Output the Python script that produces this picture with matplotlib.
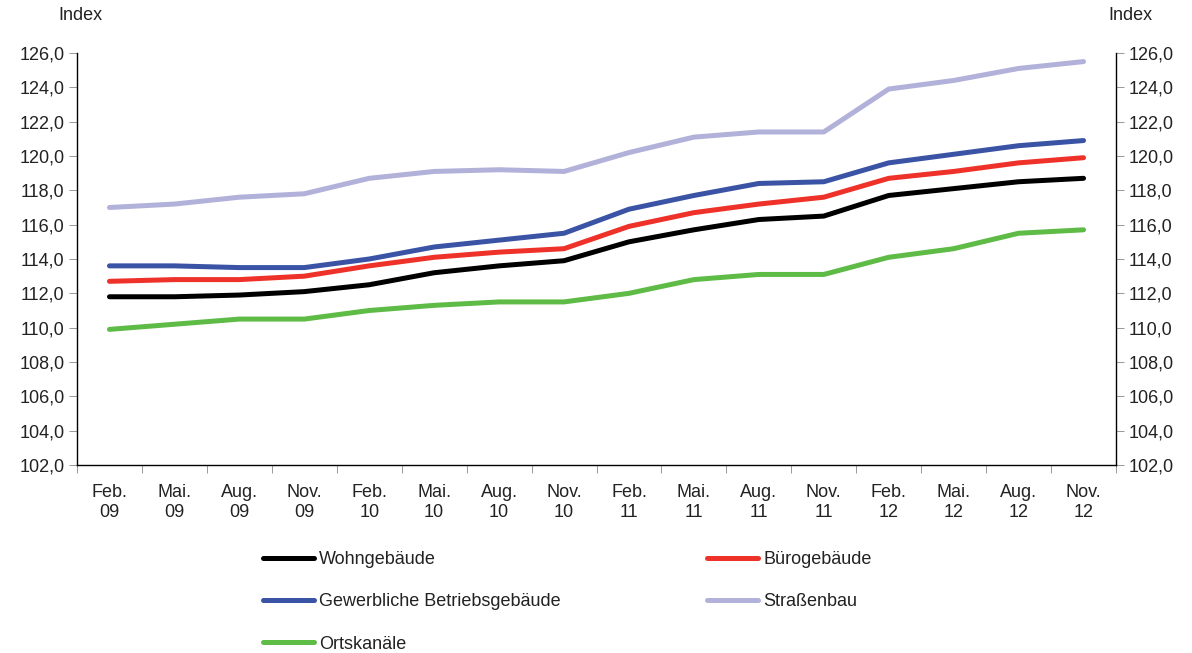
import numpy as np
import matplotlib.pyplot as plt
from matplotlib.ticker import FixedLocator, FuncFormatter

plt.rcParams['font.family'] = ['Liberation Sans', 'DejaVu Sans']

# Quarters, Feb. 2009 - Nov. 2012
labels = ['Feb.\n09', 'Mai.\n09', 'Aug.\n09', 'Nov.\n09',
          'Feb.\n10', 'Mai.\n10', 'Aug.\n10', 'Nov.\n10',
          'Feb.\n11', 'Mai.\n11', 'Aug.\n11', 'Nov.\n11',
          'Feb.\n12', 'Mai.\n12', 'Aug.\n12', 'Nov.\n12']

wohn = [111.8, 111.8, 111.9, 112.1, 112.5, 113.2, 113.6, 113.9,
        115.0, 115.7, 116.3, 116.5, 117.7, 118.1, 118.5, 118.7]
buero = [112.7, 112.8, 112.8, 113.0, 113.6, 114.1, 114.4, 114.6,
         115.9, 116.7, 117.2, 117.6, 118.7, 119.1, 119.6, 119.9]
gewerbe = [113.6, 113.6, 113.5, 113.5, 114.0, 114.7, 115.1, 115.5,
           116.9, 117.7, 118.4, 118.5, 119.6, 120.1, 120.6, 120.9]
strasse = [117.0, 117.2, 117.6, 117.8, 118.7, 119.1, 119.2, 119.1,
           120.2, 121.1, 121.4, 121.4, 123.9, 124.4, 125.1, 125.5]
kanal = [109.9, 110.2, 110.5, 110.5, 111.0, 111.3, 111.5, 111.5,
         112.0, 112.8, 113.1, 113.1, 114.1, 114.6, 115.5, 115.7]

series = [
    ('Wohngebäude', wohn, '#000000'),
    ('Bürogebäude', buero, '#EE3129'),
    ('Gewerbliche Betriebsgebäude', gewerbe, '#3A53A4'),
    ('Straßenbau', strasse, '#B1B1D9'),
    ('Ortskanäle', kanal, '#5DBB46'),
]

fig = plt.figure(figsize=(11.92, 6.53), dpi=100)
ax = fig.add_axes([77/1192, 1-465/653, (1116-77)/1192, (465-53)/653])

x = np.arange(len(labels))
handles = {}
for name, vals, col in series:
    h, = ax.plot(x, vals, color=col, lw=3.6, solid_capstyle='round', label=name)
    handles[name] = h

ax.set_xlim(-0.5, len(labels)-0.5)
ax.set_ylim(102, 126)

yt = np.arange(102, 127, 2)
fmt = FuncFormatter(lambda v, p: ('%.1f' % v).replace('.', ','))
ax.set_yticks(yt)
ax.yaxis.set_major_formatter(fmt)
ax.tick_params(axis='y', labelsize=13, length=6, width=0.6, color='#888888',
               labelcolor='#222222', left=True, right=True,
               labelleft=True, labelright=True, pad=3)

ax.xaxis.set_major_locator(FixedLocator(np.arange(-0.5, len(labels), 1)))
ax.xaxis.set_minor_locator(FixedLocator(x))
ax.xaxis.set_major_formatter(FuncFormatter(lambda v, p: ''))
ax.set_xticklabels(labels, minor=True)
ax.tick_params(axis='x', which='major', length=6, width=0.6, color='#888888')
ax.tick_params(axis='x', which='minor', length=0, labelsize=13,
               labelcolor='#222222', pad=14)

ax.spines['top'].set_visible(False)
for s in ['left', 'right', 'bottom']:
    ax.spines[s].set_linewidth(1.0)

fig.text(80/1192, 1-15/653, 'Index', fontsize=13, ha='center', va='center',
         color='#222222')
fig.text(1130/1192, 1-15/653, 'Index', fontsize=13, ha='center', va='center',
         color='#222222')

order = ['Wohngebäude', 'Gewerbliche Betriebsgebäude', 'Ortskanäle',
         'Bürogebäude', 'Straßenbau']
leg = fig.legend([handles[n] for n in order], order, ncol=2, frameon=False,
                 loc='upper left', bbox_to_anchor=(263/1192, 1-551/653),
                 fontsize=13, handlelength=2.83, handletextpad=0.28,
                 labelspacing=1.4, columnspacing=8.1, borderaxespad=0,
                 borderpad=0)
for t in leg.get_texts():
    t.set_color('#222222')

fig.savefig('out.png', dpi=100)
